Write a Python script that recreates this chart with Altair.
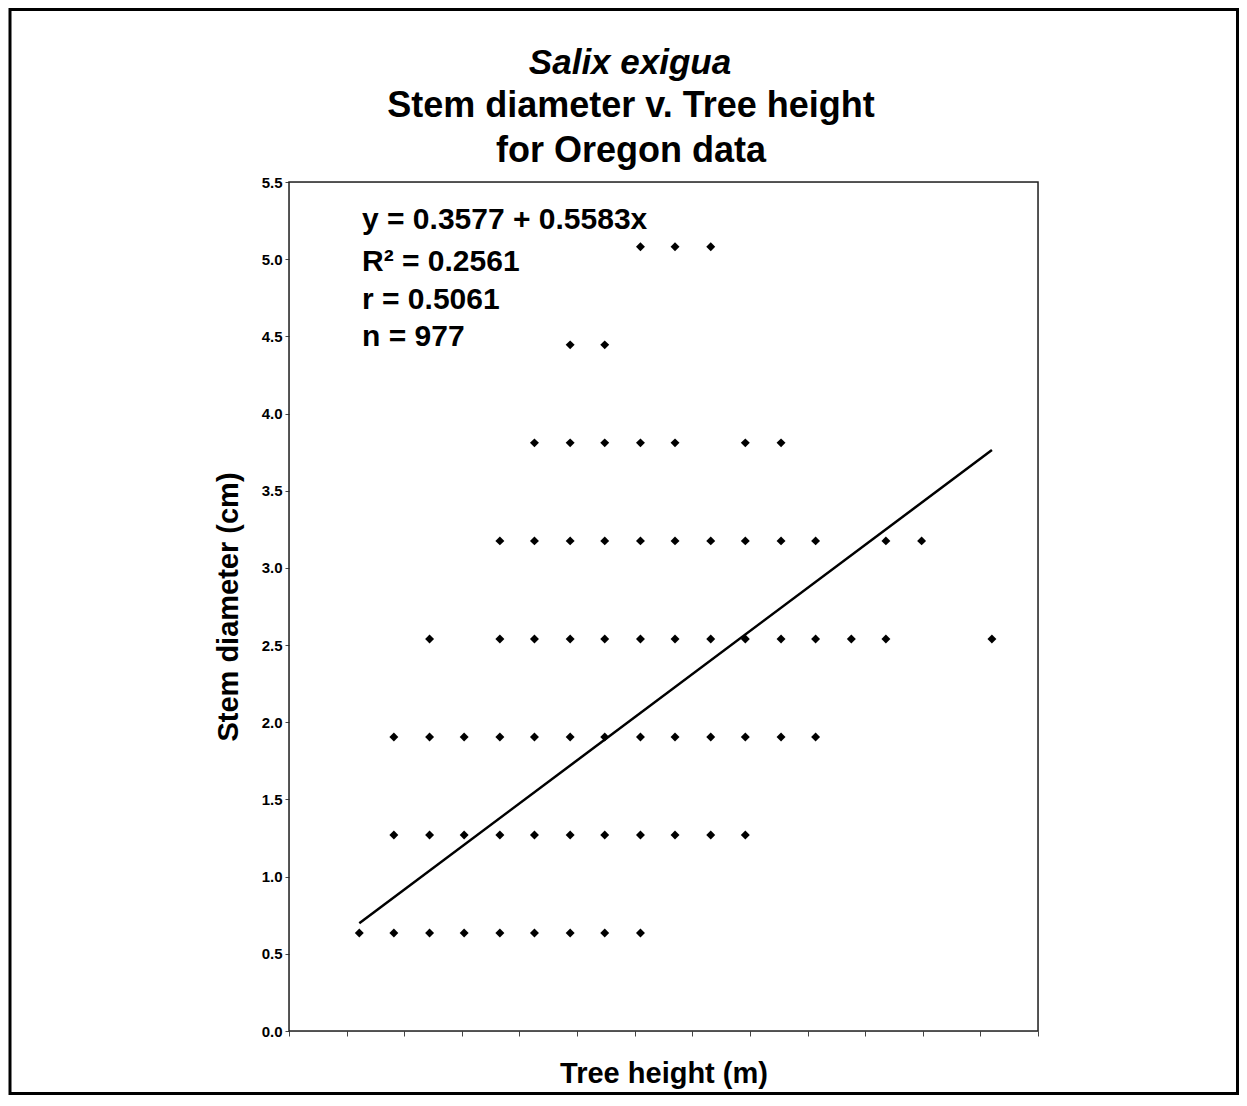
import altair as alt
import pandas as pd

# Tree heights (m) and stem diameters (cm)
heights_d063 = [0.61, 0.91, 1.22, 1.52, 1.83, 2.13, 2.44, 2.74, 3.05]
heights_d127 = [0.91, 1.22, 1.52, 1.83, 2.13, 2.44, 2.74, 3.05, 3.35, 3.66, 3.96]
heights_d190 = [0.91, 1.22, 1.52, 1.83, 2.13, 2.44, 2.74, 3.05, 3.35, 3.66, 3.96, 4.27, 4.57]
heights_d254 = [1.22, 1.83, 2.13, 2.44, 2.74, 3.05, 3.35, 3.66, 3.96, 4.27, 4.57, 4.88, 5.18, 6.10]
heights_d318 = [1.83, 2.13, 2.44, 2.74, 3.05, 3.35, 3.66, 3.96, 4.27, 4.57, 5.18, 5.49]
heights_d381 = [2.13, 2.44, 2.74, 3.05, 3.35, 3.96, 4.27]
heights_d445 = [2.44, 2.74]
heights_d508 = [3.05, 3.35, 3.66]
diameters = [0.635, 1.27, 1.905, 2.54, 3.175, 3.81, 4.445, 5.08]
height_rows = [heights_d063, heights_d127, heights_d190, heights_d254,
               heights_d318, heights_d381, heights_d445, heights_d508]

intercept = 0.3577
slope = 0.5583
line_x = [0.61, 6.10]

title_main = "Salix exigua"
title_sub = ["Stem diameter v. Tree height", "for Oregon data"]
stats_lines = ["y = 0.3577 + 0.5583x", "R\u00b2 = 0.2561", "r = 0.5061", "n = 977"]

rows = []
for d, hs in zip(diameters, height_rows):
    for h in hs:
        rows.append({"height": h, "diameter": d})
pts = pd.DataFrame(rows)
line_df = pd.DataFrame({"height": line_x, "diameter": [intercept + slope * v for v in line_x]})

FONT = "Liberation Sans, Arial, Helvetica, sans-serif"
W, H = 749, 849

xscale = alt.Scale(domain=[0, 6.5], nice=False, zero=False)
yscale = alt.Scale(domain=[0, 5.5], nice=False)

xaxis = alt.Axis(values=[0.5 * i for i in range(14)], labels=False, ticks=True, tickSize=5,
                 tickColor="#444", domain=False, grid=False, title="Tree height (m)",
                 titleFontSize=29, titleFont=FONT, titleFontWeight="bold", titleColor="black",
                 titlePadding=23)
yaxis = alt.Axis(values=[0.5 * i for i in range(12)], format=".1f", tickSize=4, tickColor="#444",
                 domain=False, grid=False, labelFont=FONT, labelFontSize=15, labelFontWeight="bold",
                 labelColor="black", labelPadding=3, title="Stem diameter (cm)", titleFontSize=29,
                 titleFont=FONT, titleFontWeight="bold", titleColor="black", titlePadding=18)

points = alt.Chart(pts).mark_point(shape="diamond", filled=True, color="black", size=80, opacity=1).encode(
    x=alt.X("height:Q", scale=xscale, axis=xaxis),
    y=alt.Y("diameter:Q", scale=yscale, axis=yaxis),
)

reg = alt.Chart(line_df).mark_line(color="black", strokeWidth=2.5).encode(
    x=alt.X("height:Q", scale=xscale, axis=xaxis),
    y=alt.Y("diameter:Q", scale=yscale, axis=yaxis),
)

one = pd.DataFrame({"a": [0]})

stats_y = [47, 89, 127, 164]
stats = [
    alt.Chart(one).mark_text(align="left", baseline="alphabetic", fontSize=30, fontWeight="bold",
                             font=FONT, color="black", text=t).encode(x=alt.value(73), y=alt.value(yy))
    for t, yy in zip(stats_lines, stats_y)
]

title1 = alt.Chart(one).mark_text(align="center", baseline="alphabetic", fontSize=35, fontWeight="bold",
                                  fontStyle="italic", font=FONT, color="black", text=title_main).encode(
    x=alt.value(341), y=alt.value(-108))
title2 = alt.Chart(one).mark_text(align="center", baseline="alphabetic", fontSize=36, fontWeight="bold",
                                  font=FONT, color="black", text=title_sub, lineHeight=44.5).encode(
    x=alt.value(342), y=alt.value(-65))

frame = alt.Chart(one).mark_rect(fill=None, stroke="black", strokeWidth=3).encode(
    x=alt.value(-279), x2=alt.value(948.5), y=alt.value(-172.5), y2=alt.value(911.5)
)
border = alt.Chart(one).mark_rect(fill=None, stroke="#222", strokeWidth=1.5).encode(
    x=alt.value(0), x2=alt.value(W), y=alt.value(0), y2=alt.value(H)
)

chart = alt.layer(frame, border, reg, points, *stats, title1, title2).properties(
    width=W, height=H,
    autosize=alt.AutoSizeParams(type="none"),
    padding={"left": 281, "top": 174, "right": 201, "bottom": 64},
).configure_view(stroke=None).configure(background="white")

chart.save("out.html", embed_options={"renderer": "svg", "actions": False})
